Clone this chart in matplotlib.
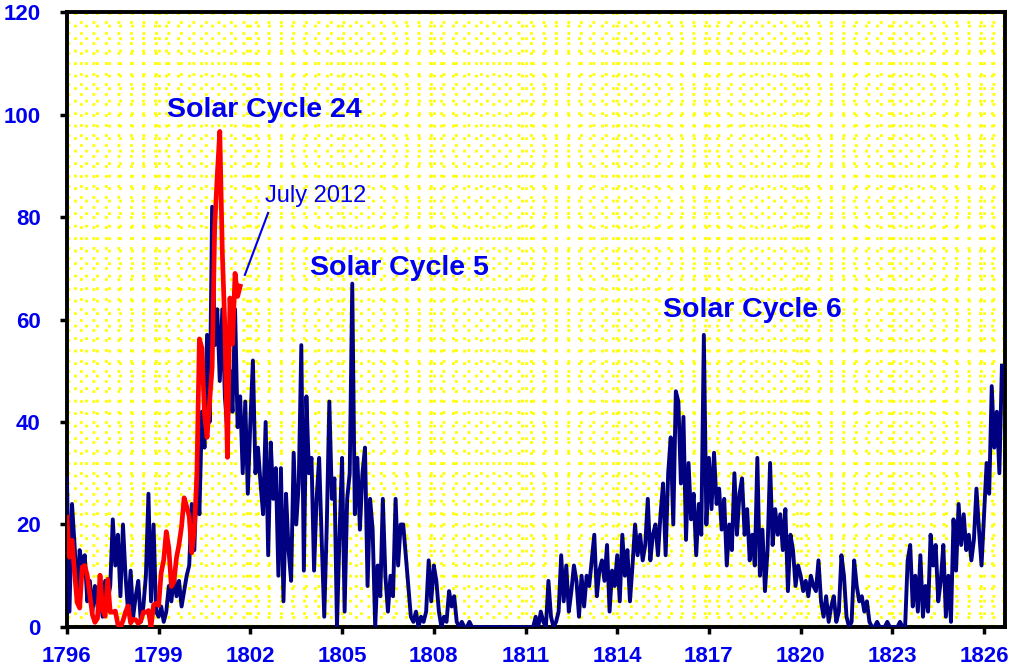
import numpy as np
import matplotlib
matplotlib.use("Agg")
from matplotlib import pyplot as plt
from matplotlib.ticker import MultipleLocator

# monthly sunspot numbers, Jan 1796 onwards (cycles 5 and 6)
y1796 = [29, 3, 24, 16, 6, 15, 12, 14, 5, 9, 3, 8]
y1797 = [4, 7, 2, 9, 5, 8, 21, 12, 18, 6, 20, 10]
y1798 = [3, 11, 2, 6, 9, 1, 4, 10, 26, 5, 20, 3]
y1799 = [2, 4, 1, 3, 8, 5, 10, 6, 9, 4, 7, 10]
y1800 = [12, 24, 15, 30, 22, 42, 35, 57, 40, 82, 55, 62]
y1801 = [48, 62, 45, 38, 50, 42, 62, 39, 45, 30, 44, 26]
y1802 = [40, 52, 30, 35, 28, 22, 40, 14, 36, 25, 31, 10]
y1803 = [31, 5, 26, 15, 9, 34, 20, 28, 55, 11, 45, 30]
y1804 = [33, 11, 25, 33, 17, 2, 20, 44, 25, 29, 0, 18]
y1805 = [33, 3, 25, 30, 67, 22, 33, 19, 30, 35, 8, 25]
y1806 = [19, 0, 12, 6, 25, 10, 3, 10, 6, 25, 12, 20]
y1807 = [20, 14, 8, 2, 1, 3, 0, 2, 1, 3, 13, 5]
y1808 = [12, 9, 3, 0, 2, 1, 7, 4, 6, 1, 0, 1]
y1809 = [0, 0, 1, 0, 0, 0, 0, 0, 0, 0, 0, 0]
y1810 = [0, 0, 0, 0, 0, 0, 0, 0, 0, 0, 0, 0]
y1811 = [0, 0, 0, 0, 2, 0, 3, 1, 0, 9, 2, 0]
y1812 = [1, 3, 14, 5, 12, 3, 7, 12, 9, 2, 10, 4]
y1813 = [10, 8, 13, 18, 6, 11, 13, 9, 16, 3, 11, 8]
y1814 = [14, 5, 18, 10, 15, 5, 12, 20, 14, 18, 13, 16]
y1815 = [25, 13, 18, 20, 14, 22, 28, 14, 30, 37, 20, 46]
y1816 = [44, 28, 41, 17, 32, 21, 26, 14, 24, 18, 57, 20]
y1817 = [33, 23, 34, 24, 27, 19, 25, 12, 20, 15, 30, 18]
y1818 = [26, 29, 18, 23, 13, 18, 12, 33, 10, 19, 7, 15]
y1819 = [32, 16, 23, 18, 22, 15, 23, 7, 18, 15, 8, 12]
y1820 = [10, 7, 9, 6, 10, 8, 7, 13, 5, 2, 6, 1]
y1821 = [4, 6, 1, 3, 14, 10, 2, 0, 1, 13, 8, 5]
y1822 = [6, 3, 5, 1, 0, 0, 1, 0, 0, 0, 1, 0]
y1823 = [0, 0, 0, 1, 0, 0, 13, 16, 4, 10, 3, 14]
y1824 = [2, 8, 3, 18, 12, 16, 5, 9, 16, 2, 10, 1]
y1825 = [21, 11, 24, 16, 22, 15, 18, 13, 17, 27, 19, 12]
y1826 = [22, 32, 26, 47, 35, 42, 30, 51]

old_cycles = (y1796 + y1797 + y1798 + y1799 + y1800 + y1801 + y1802 + y1803
              + y1804 + y1805 + y1806 + y1807 + y1808 + y1809 + y1810 + y1811
              + y1812 + y1813 + y1814 + y1815 + y1816 + y1817 + y1818 + y1819
              + y1820 + y1821 + y1822 + y1823 + y1824 + y1825 + y1826)

# cycle 24, Nov 2006 - Jul 2012, laid over the start of the old series
c2006 = [21.4, 13.6]
c2007 = [16.9, 10.6, 4.8, 3.7, 11.7, 12.0, 10.0, 6.2, 2.4, 0.9, 1.7, 10.1]
c2008 = [3.3, 2.1, 9.3, 2.9, 2.9, 3.1, 0.5, 0.0, 1.2, 2.9, 4.1, 0.8]
c2009 = [1.5, 1.4, 0.7, 1.2, 2.9, 2.9, 3.2, 0.0, 4.3, 4.6, 4.2, 10.6]
c2010 = [13.1, 18.6, 15.4, 7.9, 8.8, 13.5, 16.1, 19.6, 25.2, 23.5, 21.6, 14.5]
c2011 = [19.0, 29.4, 56.2, 54.4, 41.6, 37.0, 43.9, 50.6, 78.0, 88.0, 96.7, 73.0]
c2012 = [58.3, 33.1, 64.2, 55.2, 69.0, 64.5, 66.5]
cycle24 = c2006 + c2007 + c2008 + c2009 + c2010 + c2011 + c2012

year_ticks = [1796, 1799, 1802, 1805, 1808, 1811, 1814, 1817, 1820, 1823, 1826]
value_ticks = [0, 20, 40, 60, 80, 100, 120]

old_x = 1796 + np.arange(len(old_cycles)) / 12
new_x = 1796 + np.arange(len(cycle24)) / 12

text_blue = '#0000ee'
plt.rcParams['font.family'] = ['Liberation Sans', 'DejaVu Sans']

fig = plt.figure(figsize=(10.14, 6.68), dpi=100)
ax = fig.add_axes([0.066, 0.0614, 0.925, 0.9206])

ax.plot(old_x, old_cycles, color='#000080', lw=2.8, zorder=3)
ax.plot(new_x, cycle24, color='#ff0000', lw=3.4, zorder=4)

ax.set_xlim(1796, 1826.68)
ax.set_ylim(0, 120)
ax.set_xticks(year_ticks)
ax.set_yticks(value_ticks)
ax.xaxis.set_minor_locator(MultipleLocator(3 / 8))
ax.yaxis.set_minor_locator(MultipleLocator(2))
ax.set_axisbelow(True)
# sparse yellow dotted grid
ax.grid(which='both', color='#ffff00', lw=2.0, linestyle=(0, (1.0, 3.5)))

ax.tick_params(which='major', direction='out', length=5, width=2.5,
               labelsize=16, labelcolor=text_blue)
ax.tick_params(axis='x', pad=9)
ax.tick_params(axis='y', pad=14)
ax.tick_params(which='minor', length=0)
for lab in ax.get_xticklabels() + ax.get_yticklabels():
    lab.set_fontweight('bold')
for s in ax.spines.values():
    s.set_linewidth(2.8)
    s.set_color('black')

ax.text(1799.27, 99.5, 'Solar Cycle 24', color=text_blue, fontsize=20.5,
        fontweight='bold', va='baseline')
ax.text(1803.95, 68.7, 'Solar Cycle 5', color=text_blue, fontsize=20.5,
        fontweight='bold', va='baseline')
ax.text(1815.5, 60.5, 'Solar Cycle 6', color=text_blue, fontsize=20.5,
        fontweight='bold', va='baseline')
ax.text(1802.48, 82.9, 'July 2012', color=text_blue, fontsize=17,
        va='baseline')
ax.plot([1801.82, 1802.58], [68.7, 80.8], color=text_blue, lw=1.5, zorder=5)

fig.savefig('out.png', dpi=100)
